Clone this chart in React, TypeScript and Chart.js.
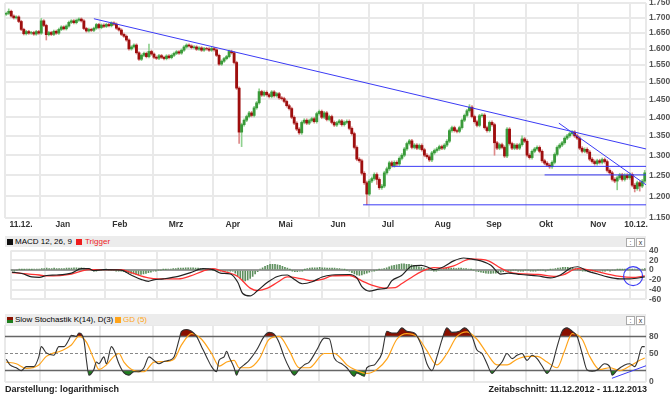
import React, { useEffect, useRef } from 'react';
import { Chart, registerables } from 'chart.js';
Chart.register(...registerables);

// ---------- DATA ----------
// daily closes (USD), 11.12.2012 - 11.12.2013
const closes = [
  1715, 1722, 1706, 1700, 1703, 1688, 1662, 1648, 1655, 1650,
  1652, 1647, 1655, 1650, 1690, 1675, 1645, 1652, 1646, 1656,
  1650, 1662, 1670, 1664, 1673, 1685, 1690, 1684, 1692, 1696,
  1690, 1665, 1657, 1662, 1659, 1666, 1678, 1668, 1676, 1672,
  1678, 1674, 1683, 1679, 1666, 1660, 1646, 1640, 1628, 1600,
  1606, 1612, 1588, 1568, 1580, 1586, 1576, 1592, 1584, 1574,
  1571, 1579, 1574, 1570, 1578, 1573, 1580, 1586, 1591, 1587,
  1596, 1606, 1612, 1609, 1604, 1606, 1599, 1603, 1596, 1601,
  1600, 1596, 1601, 1597, 1580, 1553, 1562, 1570, 1576, 1592,
  1588, 1558, 1482, 1360, 1380, 1392, 1402, 1412, 1405, 1426,
  1440, 1472, 1462, 1470, 1463, 1458, 1471, 1460, 1466, 1454,
  1452, 1444, 1432, 1424, 1400, 1384, 1368, 1358, 1386, 1392,
  1384, 1391, 1396, 1388, 1410, 1416, 1400, 1412, 1394, 1402,
  1386, 1379, 1385, 1390, 1380, 1386, 1389, 1370, 1356, 1320,
  1290, 1286, 1255, 1232, 1205, 1236, 1242, 1252, 1240, 1220,
  1224, 1256, 1266, 1281, 1274, 1282, 1278, 1292, 1300, 1316,
  1330, 1337, 1320, 1326, 1318, 1325, 1314, 1300, 1296, 1288,
  1306, 1312, 1316, 1322, 1318, 1326, 1336, 1364, 1372, 1364,
  1362, 1372, 1392, 1405, 1418, 1428, 1402, 1388, 1378, 1404,
  1406, 1372, 1364, 1386, 1380, 1332, 1318, 1327, 1320, 1298,
  1368, 1330, 1318, 1326, 1318, 1327, 1342, 1336, 1300, 1294,
  1310, 1316, 1320, 1310, 1286, 1280, 1275, 1271, 1282, 1302,
  1320, 1326, 1332, 1344, 1350, 1356, 1360, 1350, 1344, 1318,
  1310, 1315, 1308, 1290, 1284, 1279, 1286, 1282, 1289, 1284,
  1262, 1256, 1240, 1236, 1244, 1251, 1240, 1250, 1244, 1252,
  1226, 1218, 1232, 1224, 1236, 1256,
];
const firstOpen = 1712;
// notable wick extremes [dayIndex, price]
const wickHigh: [number, number][] = [[1, 1730], [14, 1698], [57, 1615], [101, 1480], [185, 1435], [200, 1372], [206, 1350], [255, 1262]];
const wickLow: [number, number][] = [[16, 1628], [93, 1330], [94, 1322], [144, 1180], [148, 1228], [195, 1300], [244, 1215], [251, 1210], [253, 1212]];

const priceTicks = [1150, 1200, 1250, 1300, 1350, 1400, 1450, 1500, 1550, 1600, 1650, 1700, 1750];
const monthBounds = [13.5, 37.5, 58.5, 82.5, 104, 125, 145, 166.5, 187, 207.5, 228.5, 249];
const monthLabelPos = [5.9, 22.6, 45.4, 67.8, 90.5, 111.6, 132.5, 152.4, 174.3, 194.8, 215.6, 236.4, 251.5];
const monthLabels = ['11.12.', 'Jan', 'Feb', 'Mrz', 'Apr', 'Mai', 'Jun', 'Jul', 'Aug', 'Sep', 'Okt', 'Nov', '10.12.'];

// drawn trend lines [dayIndex, price]
const trendLine1: [number, number][] = [[35, 1697], [255.5, 1316]];
const trendLine2: [number, number][] = [[220.7, 1384], [255.5, 1227]];
const support1: [number, number][] = [[154, 1272], [255.5, 1272]];
const support2: [number, number][] = [[215, 1251], [255.5, 1251]];
const support3: [number, number][] = [[142.5, 1180], [255.5, 1180]];

// MACD (12,26,9) [dayIndex, value]
const macdLine: [number, number][] = [[0, -4], [4, -7], [8, -14], [11, -15], [14, -11], [18, -10], [24, -6], [28, 3], [31, 3], [33, -1], [37, 1], [44, 0], [48, -10], [52, -19], [55, -23], [57, -20], [61, -18], [67, -13], [72, -5], [77, 3], [81, 1], [84, -6], [88, -8], [91, -25], [93, -48], [96, -53], [99, -42], [103, -25], [107, -13], [111, -10], [113, -16], [117, -28], [121, -24], [125, -14], [129, -10], [136, -9], [139, -16], [141, -34], [144, -43], [148, -39], [151, -37], [153, -22], [157, -11], [161, 8], [165, 10], [168, 5], [170, 1], [174, 7], [178, 19], [182, 25], [185, 23], [189, 19], [193, 10], [197, -8], [200, -6], [205, -9], [212, -12], [217, -16], [221, -10], [225, 4], [228, 7], [232, -2], [236, -8], [240, -14], [245, -18], [249, -18], [255, -14]];
const triggerLine: [number, number][] = [[0, -5], [11, -10], [14, -12], [24, -8], [28, -2], [31, 1], [37, 1], [44, 1], [48, -5], [55, -16], [59, -18], [67, -18], [72, -12], [77, -2], [81, 3], [84, -1], [91, -13], [96, -37], [99, -42], [103, -37], [107, -25], [111, -14], [117, -18], [121, -22], [125, -19], [129, -12], [136, -11], [141, -22], [145, -31], [150.5, -37], [154.5, -36], [157, -28], [161, -15], [165, -3], [170, 5], [174, 4], [178, 9], [185, 23], [192, 19], [197, 4], [201, -5], [212, -9], [219, -13], [222, -10], [228, 3], [233, 0], [240, -8], [245, -13], [250, -15], [255, -12]];
const macdHist = [
  0, -1, 0, 1, 1, 1, 2, 1, 1, 2,
  2, 2, 3, 3, 4, 3, 3, 4, 3, 3,
  3, 3, 4, 4, 4, 5, 5, 4, 5, 4,
  2, 1, 0, -1, -1, 0, 0, 0, 1, 0,
  0, 0, -1, -1, -2, -3, -4, -5, -7, -8,
  -9, -10, -9, -8, -7, -5, -4, -2, -1, 0,
  0, 1, 1, 2, 2, 3, 3, 4, 4, 4,
  5, 5, 5, 5, 4, 4, 3, 3, 2, 1,
  1, 0, 0, -1, -1, -2, -2, -2, -1, -2,
  -6, -12, -17, -22, -22, -20, -17, -13, -8, -3,
  2, 5, 8, 10, 12, 12, 12, 11, 10, 8,
  6, 4, 1, -1, -3, -3, -2, -1, 1, 3,
  4, 5, 5, 5, 6, 5, 5, 4, 4, 4,
  4, 3, 3, 2, 1, 0, -2, -5, -8, -10,
  -11, -10, -8, -6, -4, -2, -1, 0, 1, 2,
  3, 5, 7, 9, 10, 11, 12, 13, 13, 12,
  12, 11, 10, 9, 7, 6, 4, 2, 1, 0,
  -1, -1, 0, 2, 3, 4, 4, 4, 4, 3,
  4, 4, 3, 3, 2, 1, 0, -2, -3, -4,
  -5, -6, -7, -7, -6, -6, -5, -4, -3, -2,
  -1, -1, 0, 0, -1, -1, -1, 0, 0, -1,
  -1, -1, 0, 0, 0, -1, 0, 1, 2, 3,
  4, 5, 6, 6, 6, 5, 4, 3, 1, 0,
  -1, -1, -2, -2, -1, -1, -2, -2, -1, -1,
  0, -1, 0, 0, 1, 1, 1, 1, 1, 2,
  1, 2, 2, 2, 2, 3,
];
const macdTicks = [-60, -40, -20, 0, 20, 40];
const macdMark: [number, number][] = [[250.3, -12.4]];

// Slow Stochastik K(14), D(3), GD(5) [dayIndex, value]
const stochK: [number, number][] = [[0, 40], [1.5, 30], [4, 25], [6, 20], [8, 27], [11, 27], [13, 44], [14, 62], [16, 51], [19, 47], [21, 62], [23, 62], [25, 74], [26, 82], [28, 80], [29, 86], [31, 74], [32, 39], [33, 12], [35, 22], [36, 35], [37, 32], [39, 44], [40, 32], [42, 62], [43, 56], [45, 32], [47, 16], [49, 12], [51, 18], [53, 18], [55, 25], [57, 44], [59, 38], [61, 32], [63, 36], [65, 38], [67, 44], [69, 74], [70, 89], [72, 92], [74, 89], [76, 80], [78, 62], [80, 44], [82, 27], [84, 18], [85, 38], [87, 44], [88, 54], [89, 44], [91, 25], [92, 12], [93, 22], [95, 30], [97, 38], [100, 56], [103, 80], [105, 87], [107, 84], [109, 69], [111, 44], [113, 25], [115, 12], [117, 22], [119, 30], [121, 35], [124, 56], [127, 77], [129, 76], [131, 42], [134, 32], [136, 25], [139, 10], [140, 16], [143, 10], [144, 25], [147, 30], [148, 35], [150, 50], [152, 89], [154, 86], [156, 86], [158, 95], [160, 89], [163, 86], [166, 62], [168, 32], [170, 20], [172, 44], [174, 74], [176, 95], [178, 87], [181, 89], [183, 95], [186, 80], [188, 56], [190, 50], [192, 32], [194, 15], [196, 25], [198, 35], [200, 50], [202, 41], [204, 47], [206, 50], [208, 38], [210, 47], [212, 41], [214, 28], [216, 15], [218, 30], [220, 62], [222, 89], [224, 95], [226, 89], [228, 80], [230, 50], [232, 21], [234, 19], [236, 21], [239, 32], [241, 27], [242, 12], [244, 21], [247, 30], [249, 32], [251, 27], [252, 35], [254, 62], [255, 62]];
const stochD: [number, number][] = [[0, 35], [4, 32], [8, 24], [13, 30], [16, 45], [19, 51], [21, 53], [26, 65], [29, 80], [32, 70], [35, 40], [37, 22], [40, 30], [43, 45], [45, 50], [47, 35], [51, 20], [55, 18], [59, 35], [63, 36], [67, 40], [70, 65], [74, 85], [78, 75], [82, 50], [85, 28], [88, 35], [91, 38], [93, 25], [97, 25], [101, 40], [105, 75], [109, 80], [113, 55], [117, 25], [121, 25], [127, 50], [131, 50], [134, 40], [136, 30], [140, 20], [144, 15], [148, 22], [152, 40], [156, 75], [160, 85], [164, 80], [168, 55], [172, 30], [176, 50], [180, 80], [184, 88], [188, 75], [192, 50], [196, 30], [200, 30], [204, 40], [208, 45], [212, 45], [216, 35], [220, 25], [223, 55], [226, 85], [230, 75], [233, 45], [237, 22], [241, 25], [245, 20], [249, 28], [253, 38], [255, 42]];
const stochLevels = [20, 50, 80];
const stochTrend: [number, number][] = [[241.9, 6.5], [255.5, 28.5]];

// ---------- STYLE ----------
const X_MIN = -0.5;
const X_MAX = 255.5;
const WICK = 4;
const GRID = '#e9e9e9';
const FONT = '"Liberation Sans", Arial, sans-serif';
const tickFont = { family: FONT, size: 8.5, weight: 'bold' as const };
const BLUE = '#3b3bf5';

const pts = (arr: [number, number][]) => arr.map(([x, y]) => ({ x, y }));

function xAxis(withLabels: boolean): any {
  const grid = [X_MIN, ...monthBounds, X_MAX];
  const vals = withLabels ? [...grid, ...monthLabelPos].sort((a, b) => a - b) : grid;
  return {
    type: 'linear',
    min: X_MIN,
    max: X_MAX,
    offset: false,
    afterBuildTicks: (s: any) => {
      s.ticks = vals.map((v) => ({ value: v }));
    },
    grid: {
      offset: false,
      drawTicks: false,
      lineWidth: 2,
      color: (c: any) => (c.tick && grid.includes(c.tick.value) ? GRID : 'rgba(0,0,0,0)'),
    },
    border: { display: false },
    ticks: {
      display: withLabels,
      autoSkip: false,
      maxRotation: 0,
      minRotation: 0,
      padding: 2,
      font: tickFont,
      color: '#333',
      callback: (v: any) => {
        const k = monthLabelPos.indexOf(v);
        return k >= 0 ? monthLabels[k] : '';
      },
    },
    afterFit: (s: any) => {
      s.height = withLabels ? 14 : 0;
      s.paddingLeft = 0;
      s.paddingRight = 0;
    },
  };
}

function yAxis(extra: any): any {
  return {
    position: 'right',
    border: { display: false },
    ticks: { padding: 3, font: tickFont, color: '#555', autoSkip: false },
    afterFit: (s: any) => {
      s.width = 24;
      s.paddingTop = 0;
      s.paddingBottom = 0;
    },
    ...extra,
  };
}

const baseOpts = {
  responsive: false,
  animation: false as const,
  devicePixelRatio: 1,
  events: [] as any[],
  plugins: { legend: { display: false }, tooltip: { enabled: false } },
};

function trend(data: [number, number][], color = BLUE): any {
  return {
    type: 'line',
    data: pts(data),
    borderColor: color,
    borderWidth: 1,
    pointRadius: 0,
    fill: false,
    order: 0,
  };
}

export default function App() {
  const mainRef = useRef<HTMLCanvasElement>(null);
  const macdRef = useRef<HTMLCanvasElement>(null);
  const stochRef = useRef<HTMLCanvasElement>(null);

  useEffect(() => {
    const hiMap = new Map(wickHigh);
    const loMap = new Map(wickLow);
    const opens = closes.map((c, i) => (i === 0 ? firstOpen : closes[i - 1]));
    const bodies: any[] = [];
    const wicks: any[] = [];
    const bodyCol: string[] = [];
    const wickCol: string[] = [];
    closes.forEach((c, i) => {
      const o = opens[i];
      const up = c >= o;
      const hi = hiMap.get(i) ?? Math.max(o, c) + WICK;
      const lo = loMap.get(i) ?? Math.min(o, c) - WICK;
      bodies.push({ x: i, y: [o, c === o ? c + 1 : c] });
      wicks.push({ x: i, y: [lo, hi] });
      bodyCol.push(up ? '#3a9a3a' : '#9e0e0e');
      wickCol.push(up ? '#8fd18f' : '#de8a8a');
    });

    const mono = { cubicInterpolationMode: 'monotone' as const };

    const main = new Chart(mainRef.current!, {
      type: 'bar',
      data: {
        datasets: [
          { type: 'bar', data: wicks, backgroundColor: wickCol, barThickness: 1, grouped: false, order: 3 } as any,
          { type: 'bar', data: bodies, backgroundColor: bodyCol, barThickness: 2.2, grouped: false, order: 2 } as any,
          trend(trendLine1),
          trend(trendLine2),
          trend(support1),
          trend(support2),
          trend(support3),
        ],
      },
      options: {
        ...baseOpts,
        layout: { padding: { left: 5, top: 3, right: 0, bottom: 0 } },
        scales: {
          x: xAxis(true),
          y: yAxis({
            type: 'logarithmic',
            min: 1150,
            max: 1750,
            afterBuildTicks: (s: any) => {
              s.ticks = priceTicks.map((v) => ({ value: v }));
            },
            grid: { color: GRID, lineWidth: 2, drawTicks: false },
            ticks: {
              padding: 3,
              font: tickFont,
              color: '#555',
              autoSkip: false,
              callback: (v: any) => {
                const n = Math.round(Number(v));
                return `${Math.floor(n / 1000)}.${String(n % 1000).padStart(3, '0')}`;
              },
            },
          }),
        },
      } as any,
    });

    const macd = new Chart(macdRef.current!, {
      type: 'bar',
      data: {
        datasets: [
          {
            type: 'bar',
            data: macdHist.map((v, i) => ({ x: i, y: v })),
            backgroundColor: '#5e8f5e',
            barThickness: 1,
            grouped: false,
            order: 3,
          } as any,
          { type: 'line', data: pts(triggerLine), borderColor: '#ff3333', borderWidth: 1.3, pointRadius: 0, ...mono, order: 1 },
          { type: 'line', data: pts(macdLine), borderColor: '#222', borderWidth: 1.2, pointRadius: 0, ...mono, order: 0 },
          {
            type: 'line',
            data: pts(macdMark),
            showLine: false,
            pointRadius: 9.5,
            pointBorderWidth: 1.2,
            pointBorderColor: BLUE,
            pointBackgroundColor: 'rgba(0,0,0,0)',
            order: 0,
          } as any,
        ],
      },
      options: {
        ...baseOpts,
        layout: { padding: { left: 5, top: 8, right: 0, bottom: 6 } },
        scales: {
          x: xAxis(false),
          y: yAxis({
            type: 'linear',
            min: -60,
            max: 40,
            afterBuildTicks: (s: any) => {
              s.ticks = macdTicks.map((v) => ({ value: v }));
            },
            grid: {
              drawTicks: false,
              lineWidth: 2,
              color: (c: any) => (c.tick && c.tick.value === 0 ? '#9a9a9a' : GRID),
            },
          }),
        },
      } as any,
    });

    const stoch = new Chart(stochRef.current!, {
      type: 'line',
      data: {
        datasets: [
          {
            data: pts(stochK),
            borderWidth: 0,
            pointRadius: 0,
            ...mono,
            fill: { target: { value: 80 }, above: '#8a1000', below: 'rgba(0,0,0,0)' },
            order: 5,
          },
          {
            data: pts(stochK),
            borderWidth: 0,
            pointRadius: 0,
            ...mono,
            fill: { target: { value: 20 }, above: 'rgba(0,0,0,0)', below: '#1f7f1f' },
            order: 5,
          },
          ...stochLevels.map((lv) => ({
            data: [{ x: X_MIN, y: lv }, { x: X_MAX, y: lv }],
            borderColor: lv === 50 ? '#888' : '#666',
            borderWidth: lv === 50 ? 1 : 1.5,
            borderDash: lv === 50 ? [3, 2] : [],
            pointRadius: 0,
            fill: false,
            order: 4,
          })),
          { data: pts(stochD), borderColor: '#ffa41a', borderWidth: 1.2, pointRadius: 0, ...mono, fill: false, order: 2 },
          { data: pts(stochK), borderColor: '#333', borderWidth: 1.1, pointRadius: 0, ...mono, fill: false, order: 1 },
          trend(stochTrend),
        ] as any,
      },
      options: {
        ...baseOpts,
        layout: { padding: { left: 5, top: 7, right: 0, bottom: 6 } },
        scales: {
          x: xAxis(false),
          y: yAxis({
            type: 'linear',
            min: 0,
            max: 100,
            afterBuildTicks: (s: any) => {
              s.ticks = [0, 50, 80, 100].map((v) => ({ value: v }));
            },
            grid: {
              drawTicks: false,
              lineWidth: 2,
              color: (c: any) => (c.tick && (c.tick.value === 0 || c.tick.value === 100) ? GRID : 'rgba(0,0,0,0)'),
            },
            ticks: {
              padding: 3,
              font: tickFont,
              color: '#555',
              autoSkip: false,
              callback: (v: any) => (v === 100 ? '' : String(v)),
            },
          }),
        },
      } as any,
    });

    return () => {
      main.destroy();
      macd.destroy();
      stoch.destroy();
    };
  }, []);

  const headerStyle = (top: number): React.CSSProperties => ({
    position: 'absolute',
    left: 5,
    top,
    width: 641,
    height: 11,
    background: '#ececec',
    fontFamily: FONT,
    fontSize: 8,
    lineHeight: '11px',
    color: '#000',
    whiteSpace: 'nowrap',
  });
  const sq = (bg: string, left: number): React.CSSProperties => ({
    position: 'absolute',
    left,
    top: 3,
    width: 6,
    height: 6,
    background: bg,
  });
  const btn = (left: number): React.CSSProperties => ({
    position: 'absolute',
    left,
    top: 2,
    width: 7,
    height: 7,
    border: '1px solid #aaa',
    background: '#fff',
    fontSize: 7,
    lineHeight: '7px',
    textAlign: 'center',
    color: '#333',
    fontFamily: FONT,
  });

  return (
    <div style={{ position: 'absolute', left: 0, top: 0, width: 670, height: 394, background: '#fff', overflow: 'hidden' }}>
      <canvas ref={mainRef} width={670} height={232} style={{ position: 'absolute', left: 0, top: 0, width: 670, height: 232 }} />
      <canvas ref={macdRef} width={670} height={70} style={{ position: 'absolute', left: 0, top: 240, width: 670, height: 70 }} />
      <canvas ref={stochRef} width={670} height={70} style={{ position: 'absolute', left: 0, top: 318, width: 670, height: 70 }} />

      <div style={headerStyle(236)}>
        <div style={sq('#111', 2)} />
        <span style={{ position: 'absolute', left: 10, top: 0 }}>MACD 12, 26, 9</span>
        <div style={sq('#ee1c1c', 71)} />
        <span style={{ position: 'absolute', left: 80, top: 0, color: '#ee1c1c' }}>Trigger</span>
        <div style={btn(621)}>:</div>
        <div style={btn(631)}>x</div>
      </div>

      <div style={headerStyle(314)}>
        <div style={{ ...sq('#8a1000', 2), background: 'linear-gradient(#8a1000 50%, #1f7f1f 50%)' }} />
        <span style={{ position: 'absolute', left: 10, top: 0 }}>Slow Stochastik K(14), D(3)</span>
        <div style={sq('#ffa41a', 110)} />
        <span style={{ position: 'absolute', left: 118, top: 0, color: '#ffa41a' }}>GD (5)</span>
        <div style={btn(621)}>:</div>
        <div style={btn(631)}>x</div>
      </div>

      <div style={{ position: 'absolute', left: 5, top: 384, fontFamily: FONT, fontSize: 9, fontWeight: 'bold', color: '#222', lineHeight: '10px' }}>
        Darstellung: logarithmisch
      </div>
      <div style={{ position: 'absolute', right: 23, top: 384, fontFamily: FONT, fontSize: 9, fontWeight: 'bold', color: '#222', lineHeight: '10px' }}>
        Zeitabschnitt: 11.12.2012 - 11.12.2013
      </div>
    </div>
  );
}
